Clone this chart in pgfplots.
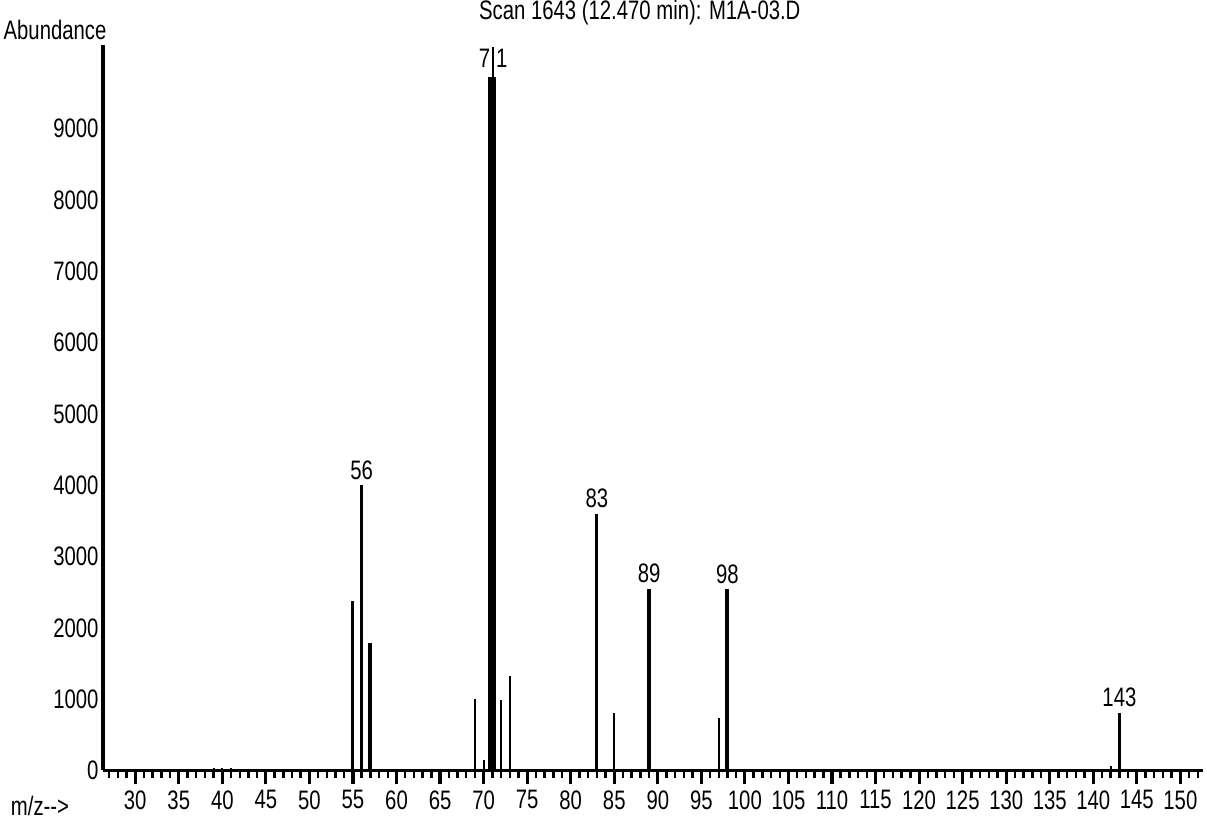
\documentclass[border=0pt]{standalone}
\usepackage{fontspec}
\setmainfont{Liberation Sans}[FakeStretch=0.76]
\usepackage{pgfplots}
\pgfplotsset{compat=1.18}

\begin{document}
\begin{tikzpicture}[font=\fontsize{7.6}{8}\selectfont]
\begin{axis}[
    name=ax,
    scale only axis,
    width=11cm,height=7.25cm,
    xmin=26.3,xmax=152.6,
    ymin=0,ymax=10168,
    axis x line*=bottom,
    axis y line*=left,
    x axis line style={line width=1pt},
    y axis line style={line width=1.3pt},
    xtick={30,35,...,150},
    minor xtick={27,28,...,152},
    tick align=outside,
    major tick length=0.14cm,
    minor tick length=0.08cm,
    x tick style={line width=0.9pt,black},
    minor x tick style={line width=0.7pt,black},
    ytick={0,1000,...,9000},
    y tick style={draw=none},
    yticklabel style={inner sep=0.5pt,xshift=0.12cm},
    xticklabel style={inner sep=1.5pt},
    scaled y ticks=false,
    /pgf/number format/assume math mode=true,
    /pgf/number format/1000 sep={},
    clip=false,
]
% main peaks
\addplot[ycomb,black,line width=0.03cm,mark=none] coordinates {
    (55,2380) (56,4000) (83,3600) (143,810)
};
\addplot[ycomb,black,line width=0.04cm,mark=none] coordinates {
    (57,1790) (89,2550) (98,2540)
};
\addplot[ycomb,black,line width=0.02cm,mark=none] coordinates {
    (69,1000) (72,990) (73,1330) (85,800) (97,740)
    (39,40) (40,40) (41,30) (70,150) (142,60)
};
% base peak
\addplot[ycomb,black,line width=0.08cm,mark=none] coordinates {(71,9730)};
\addplot[ycomb,black,line width=0.025cm,mark=none] coordinates {(71.1,10150)};
% peak labels
\node[anchor=south,inner sep=1.5pt] at (axis cs:56,4000) {56};
\node[anchor=south,inner sep=1.5pt] at (axis cs:83,3600) {83};
\node[anchor=south,inner sep=1.5pt] at (axis cs:89,2550) {89};
\node[anchor=south,inner sep=1.5pt] at (axis cs:98,2540) {98};
\node[anchor=south,inner sep=1.5pt] at (axis cs:143,810) {143};
\node[anchor=center,inner sep=0pt] at (axis cs:71.1,9990) {7\hspace{0.06cm}1};
% titles
\node[anchor=center,inner sep=0pt] at ([yshift=0.33cm]rel axis cs:0.488,1) {Scan 1643 (12.470 min): M1A-03.D};
\node[anchor=center,inner sep=0pt] at ([xshift=-0.48cm,yshift=0.15cm]rel axis cs:0,1) {Abundance};
\node[anchor=center,inner sep=0pt] at ([xshift=-0.63cm,yshift=-0.35cm]rel axis cs:0,0) {m/z{-}{-}>};
\end{axis}
\path ([xshift=-1.03cm,yshift=-0.47cm]ax.south west) rectangle ([xshift=0.04cm,yshift=0.45cm]ax.north east);
\end{tikzpicture}
\end{document}
